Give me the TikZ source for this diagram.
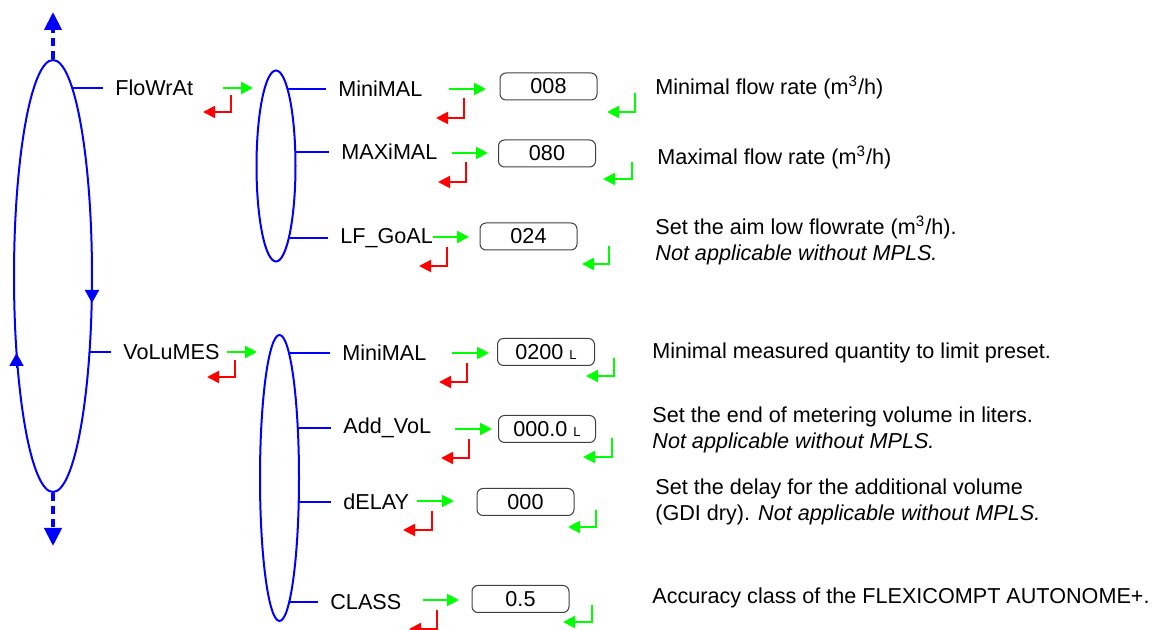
\documentclass[tikz,border=0pt]{standalone}
\usepackage{fontspec}
\setmainfont{Liberation Sans}
\usetikzlibrary{arrows.meta, positioning, shapes.geometric}

\begin{document}
\begin{tikzpicture}[
  x=0.5pt, y=-0.5pt,
  font=\fontsize{10.8}{13}\selectfont,
  loop/.style={draw=blue, line width=1pt, ellipse, inner sep=0pt},
  menu/.style={blue, line width=1pt, shorten >=6pt},
  item/.style={anchor=west, inner sep=0pt},
  valbox/.style={draw=black!75, line width=0.5pt, rounded corners=3pt, minimum width=48.5pt, minimum height=13.5pt, inner sep=0pt},
  desc/.style={anchor=west, inner sep=0pt, align=left},
  enter/.style={green, line width=1pt, -{Triangle[length=6pt, width=6pt]}},
  back/.style={red, line width=1pt, -{Triangle[length=6pt, width=6pt]}},
  dir/.style={blue, line width=1pt, -{Triangle[length=6.5pt, width=7pt]}},
  more/.style={blue, line width=2pt, dash pattern=on 4pt off 2.5pt, -{Triangle[length=9pt, width=8.5pt]}}
]
  \useasboundingbox (0,0) rectangle (1163,630);
  \clip (0,0) rectangle (1163,630);

  % main loop
  \node[loop, minimum width=39pt, minimum height=216pt] (main) at (53,276) {};
  \draw[more] (main.north) -- (53,12);
  \draw[more] (main.south) -- (53,546);
  \draw[dir] (92,288) -- (92,303);
  \draw[dir] (16.5,368) -- (16.5,353);

  \node[item] (flowrate) at (115,88) {FloWrAt};
  \node[item] (volumes) at (123,352) {VoLuMES};
  \draw[menu] (72.2,88) -- (flowrate.west);
  \draw[menu] (89.5,352) -- (volumes.west);
  \draw[enter] (223,88) -- (253,88);
  \draw[back] (231,95) |- (203,112);
  \draw[enter] (227,352) -- (257,352);
  \draw[back] (235,360) |- (207,377);

  % flow rate menu
  \node[loop, minimum width=19.5pt, minimum height=95.5pt] (flow) at (276,166) {};
  \node[item] (fmin) at (338,89) {MiniMAL};
  \node[item] (fmax) at (341,152) {MAXiMAL};
  \node[item] (fgoal) at (340,238) {LF\_GoAL};
  \draw[menu] (287.5,89) -- (fmin.west);
  \draw[menu] (295.3,152) -- (fmax.west);
  \draw[menu] (288.8,238) -- (fgoal.west);

  \node[valbox] (vfmin) at (548.5,86.5) {008};
  \node[valbox] (vfmax) at (547,153.5) {080};
  \node[valbox] (vfgoal) at (528.5,236.5) {024};

  \draw[enter] (449,89) -- (486,89);
  \draw[back] (464,98) |- (436,118);
  \draw[enter] (635,93) |- (607,112);
  \draw[enter] (452,153) -- (488,153);
  \draw[back] (466,162) |- (438,182);
  \draw[enter] (632,162) |- (603,179);
  \draw[enter] (433,237) -- (469,237);
  \draw[back] (447,247) |- (419,266);
  \draw[enter] (609,246) |- (582,264);

  \node[desc] (dfmin) at (655,87) {Minimal flow rate (m\textsuperscript{3}/h)};
  \node[desc] (dfmax) at (657,157) {Maximal flow rate (m\textsuperscript{3}/h)};
  \node[desc] (dfgoal) at (655,240) {Set the aim low flowrate (m\textsuperscript{3}/h).\\\textit{Not applicable without MPLS.}};

  % volume menu
  \node[loop, minimum width=19.5pt, minimum height=143pt] (vol) at (279.5,478) {};
  \node[item] (vmin) at (342,353) {MiniMAL};
  \node[item] (vadd) at (343,428) {Add\_VoL};
  \node[item] (vdelay) at (343,502) {dELAY};
  \node[item] (vclass) at (330,602) {CLASS};
  \draw[menu] (289,353) -- (vmin.west);
  \draw[menu] (297.8,428) -- (vadd.west);
  \draw[menu] (298.7,502) -- (vdelay.west);
  \draw[menu] (289.2,602) -- (vclass.west);

  \node[valbox] (vvmin) at (546,352) {0200\hspace{3pt}{\fontsize{6.5}{6.5}\selectfont L}};
  \node[valbox] (vvadd) at (547,429) {000.0\hspace{3pt}{\fontsize{6.5}{6.5}\selectfont L}};
  \node[valbox] (vvdelay) at (525.5,502) {000};
  \node[valbox] (vvclass) at (520.5,599) {0.5};

  \draw[enter] (452,353) -- (489,353);
  \draw[back] (467,363) |- (439,382);
  \draw[enter] (614,358) |- (586,376);
  \draw[enter] (455,429) -- (492,429);
  \draw[back] (469,439) |- (441,458);
  \draw[enter] (612,438) |- (583,457);
  \draw[enter] (417,501) -- (454,501);
  \draw[back] (432,511) |- (403,530);
  \draw[enter] (596,510) |- (568,527);
  \draw[enter] (423,600) -- (459,600);
  \draw[back] (437,610) |- (409,629);
  \draw[enter] (592,605) |- (563,622);

  \node[desc] (dvmin) at (652,353) {Minimal measured quantity to limit preset.};
  \node[desc] (dvadd) at (652,430) {Set the end of metering volume in liters.\\\textit{Not applicable without MPLS.}};
  \node[desc] (dvdelay) at (655,501.5) {Set the delay for the additional volume\\(GDI dry). \textit{Not applicable without MPLS.}};
  \node[desc] (dvclass) at (652,598) {Accuracy class of the FLEXICOMPT AUTONOME+.};
\end{tikzpicture}
\end{document}
